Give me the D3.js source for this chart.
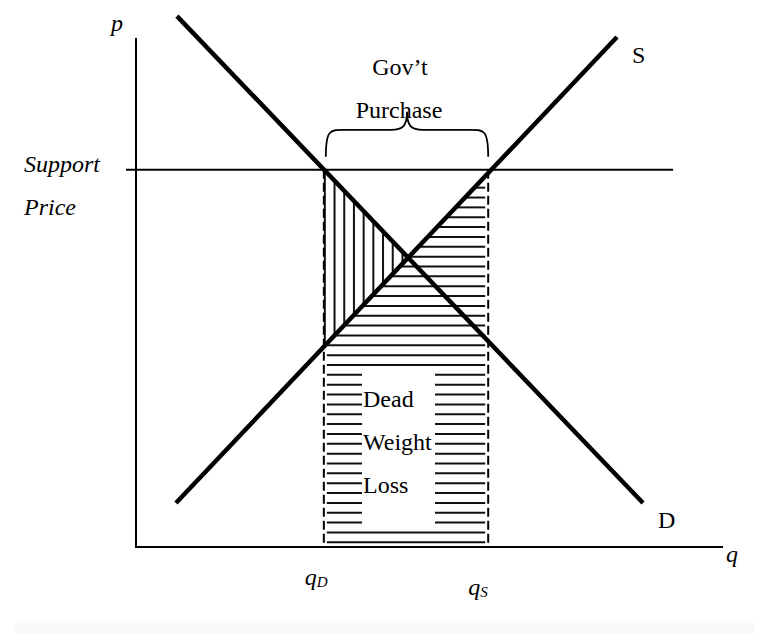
<!DOCTYPE html>
<html>
<head>
<meta charset="utf-8">
<script src="https://cdn.jsdelivr.net/npm/d3@7"></script>
<style>
  html, body { margin: 0; padding: 0; background: #fff; }
  svg { display: block; }
  text { font-family: "Liberation Serif", "Times New Roman", serif; fill: #000; }
</style>
</head>
<body>
<svg id="chart" width="760" height="634"></svg>
<script>
// ---- Data (economic units: q and p both on 0..100 scales) ----
const demandPoints = [[6.98, 104.3], [86.37, 8.64]];
const supplyPoints = [[6.81, 8.64], [81.94, 100.2]];
const supportPrice = 74.1;
const supportSpan = [-1.7, 91.5];
const quantityDemanded = 32.0;   // qD
const quantitySupplied = 60.0;   // qS
const axisDomainQ = [0, 100];
const axisDomainP = [0, 100];
const axisMaxQ = 100;
const axisMaxP = 100;
const curveLabels = ["S", "D"];
const axisLabels = ["p", "q"];
const priceLabelLines = ["Support", "Price"];
const purchaseLabelLines = ["Gov\u2019t", "Purchase"];
const dwlLabelLines = ["Dead", "Weight", "Loss"];

// ---- Scales ----
const svg = d3.select("#chart");
const x = d3.scaleLinear().domain(axisDomainQ).range([136, 723]);
const y = d3.scaleLinear().domain(axisDomainP).range([547, 38]);

svg.append("rect").attr("x", 15).attr("y", 623).attr("width", 740).attr("height", 11).attr("fill", "#f9f9f9");

// helpers: line param in pixel space
function lineFn(pts) {
  const [a, b] = pts.map(d => [x(d[0]), y(d[1])]);
  return {
    xAt: yy => a[0] + (yy - a[1]) * (b[0] - a[0]) / (b[1] - a[1]),
    yAt: xx => a[1] + (xx - a[0]) * (b[1] - a[1]) / (b[0] - a[0])
  };
}
const dem = lineFn(demandPoints);
const sup = lineFn(supplyPoints);
const xD = x(quantityDemanded), xS = x(quantitySupplied), ySP = y(supportPrice);
// intersection x
const xE = (function () {
  let lo = xD, hi = xS;
  for (let i = 0; i < 60; i++) {
    const m = (lo + hi) / 2;
    if (dem.yAt(m) < sup.yAt(m)) lo = m; else hi = m;
  }
  return (lo + hi) / 2;
})();
const yE = dem.yAt(xE);

const hatch = svg.append("g").attr("stroke", "#111").attr("stroke-width", 2);

// vertical hatching (triangle between D above and S below, left of equilibrium)
for (let xx = xD + 1; xx < xE - 2; xx += 9.7) {
  hatch.append("line").attr("x1", xx).attr("x2", xx)
    .attr("y1", dem.yAt(xx)).attr("y2", sup.yAt(xx));
}

// horizontal hatching
const textGap = { x0: 362, x1: 435, y0: 370, y1: 528 };
for (let yy = ySP + 8; yy <= y(0) - 4; yy += 9.85) {
  const left = Math.max(xD + 3, sup.xAt(yy));
  const right = xS - 3;
  if (right <= left) continue;
  if (yy > textGap.y0 && yy < textGap.y1) {
    hatch.append("line").attr("x1", left).attr("x2", textGap.x0).attr("y1", yy).attr("y2", yy);
    hatch.append("line").attr("x1", textGap.x1).attr("x2", right).attr("y1", yy).attr("y2", yy);
  } else {
    hatch.append("line").attr("x1", left).attr("x2", right).attr("y1", yy).attr("y2", yy);
  }
}

// dashed verticals at qD and qS
[quantityDemanded, quantitySupplied].forEach(q => {
  svg.append("line").attr("x1", x(q)).attr("x2", x(q))
    .attr("y1", ySP).attr("y2", y(0))
    .attr("stroke", "#000").attr("stroke-width", 2).attr("stroke-dasharray", "9,4");
});

// axes
svg.append("line").attr("x1", x(0)).attr("x2", x(0)).attr("y1", y(axisMaxP)).attr("y2", y(0) + 1)
  .attr("stroke", "#000").attr("stroke-width", 2);
svg.append("line").attr("x1", x(0)).attr("x2", x(axisMaxQ)).attr("y1", y(0)).attr("y2", y(0))
  .attr("stroke", "#000").attr("stroke-width", 2);

// support price line
svg.append("line").attr("x1", x(supportSpan[0])).attr("x2", x(supportSpan[1]))
  .attr("y1", ySP).attr("y2", ySP).attr("stroke", "#000").attr("stroke-width", 2);

// demand & supply
const lineGen = d3.line().x(d => x(d[0])).y(d => y(d[1]));
[demandPoints, supplyPoints].forEach(pts => {
  svg.append("path").attr("d", lineGen(pts)).attr("fill", "none")
    .attr("stroke", "#000").attr("stroke-width", 4.5);
});

// brace
const bx0 = xD + 2, bx1 = xS, bBase = ySP - 13, bTop = bBase - 27, bCusp = bTop - 18, bm = (bx0 + bx1) / 2;
const brace = `M${bx0},${bBase} C${bx0},${bTop} ${bx0 + 4},${bTop} ${bx0 + 18},${bTop}
  L${bm - 16},${bTop} C${bm - 4},${bTop} ${bm},${bTop - 4} ${bm},${bCusp}
  C${bm},${bTop - 4} ${bm + 4},${bTop} ${bm + 16},${bTop}
  L${bx1 - 18},${bTop} C${bx1 - 4},${bTop} ${bx1},${bTop} ${bx1},${bBase}`;
svg.append("path").attr("d", brace).attr("fill", "none").attr("stroke", "#000").attr("stroke-width", 1.8);

// texts
const fs = 24;
svg.append("text").attr("x", 400).attr("y", 75).attr("text-anchor", "middle").attr("font-size", fs).text(purchaseLabelLines[0]);
svg.append("text").attr("x", 399).attr("y", 118).attr("text-anchor", "middle").attr("font-size", fs).text(purchaseLabelLines[1]);

dwlLabelLines.forEach((t, i) => {
  svg.append("text").attr("x", 363).attr("y", 407 + i * 43).attr("font-size", fs).text(t);
});

priceLabelLines.forEach((t, i) => {
  svg.append("text").attr("x", 24).attr("y", 172 + i * 43).attr("font-size", fs).attr("font-style", "italic").text(t);
});

svg.append("text").attr("x", 111).attr("y", 31).attr("font-size", fs).attr("font-style", "italic").text(axisLabels[0]);
svg.append("text").attr("x", 726).attr("y", 562).attr("font-size", fs).attr("font-style", "italic").text(axisLabels[1]);
svg.append("text").attr("x", 632).attr("y", 63).attr("font-size", fs).text(curveLabels[0]);
svg.append("text").attr("x", 658).attr("y", 528).attr("font-size", fs).text(curveLabels[1]);

function qLabel(xp, yb, sub) {
  const t = svg.append("text").attr("x", xp).attr("y", yb).attr("font-size", fs).attr("font-style", "italic");
  t.append("tspan").text("q");
  t.append("tspan").attr("font-size", 15).attr("dy", 2).text(sub);
}
qLabel(x(quantityDemanded) - 19, 585, "D");
qLabel(x(quantitySupplied) - 20, 595, "S");
</script>
</body>
</html>
